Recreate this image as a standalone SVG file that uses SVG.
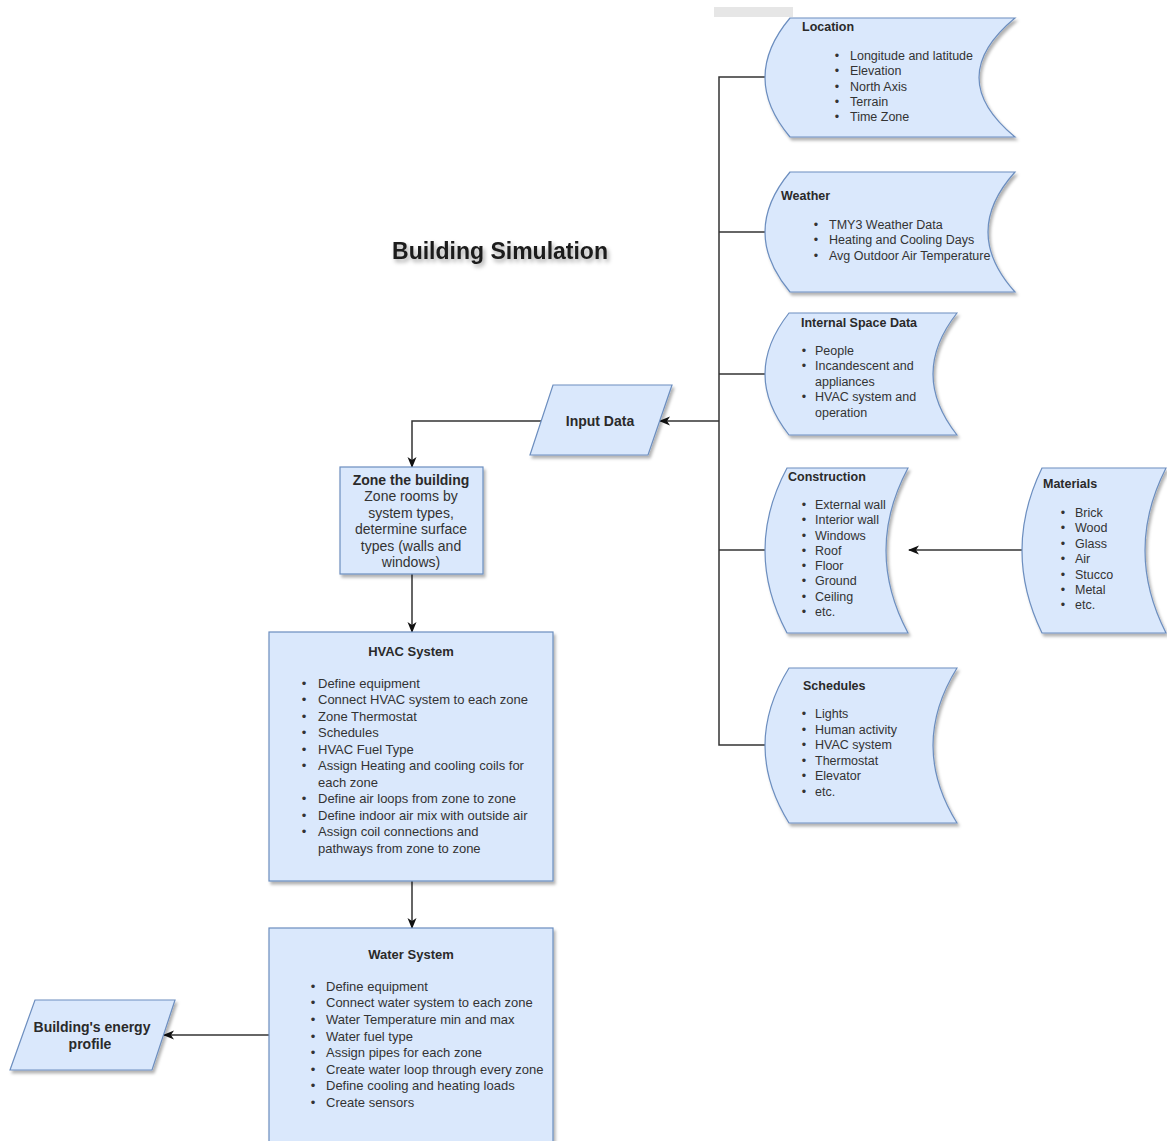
<svg xmlns="http://www.w3.org/2000/svg" width="1167" height="1141" viewBox="0 0 1167 1141">
<style>
.shape{fill:#dae8fc;stroke:#6c8ebf;stroke-width:1.2;filter:url(#sh)}
.t{font-family:"Liberation Sans",Arial,sans-serif;font-size:12.5px;fill:#333}
.b{font-family:"Liberation Sans",Arial,sans-serif;font-size:12.5px;font-weight:bold;fill:#2a2a2a}
.m{font-family:"Liberation Sans",Arial,sans-serif;font-size:13px;fill:#333}
.mb{font-family:"Liberation Sans",Arial,sans-serif;font-size:13px;font-weight:bold;fill:#2a2a2a}
.z{font-family:"Liberation Sans",Arial,sans-serif;font-size:14px;fill:#333;text-anchor:middle}
.zb{font-family:"Liberation Sans",Arial,sans-serif;font-size:14px;font-weight:bold;fill:#2a2a2a;text-anchor:middle}
.bu{text-anchor:middle}
.c{fill:none;stroke:#333;stroke-width:1.5}
</style>
<defs>
<filter id="sh" x="-10%" y="-10%" width="130%" height="130%">
<feDropShadow dx="2" dy="3" stdDeviation="1.5" flood-color="#000" flood-opacity="0.3"/>
</filter>
<filter id="tsh" x="-10%" y="-30%" width="130%" height="180%">
<feDropShadow dx="2" dy="3" stdDeviation="2" flood-color="#000" flood-opacity="0.35"/>
</filter>
<marker id="ah" markerWidth="11" markerHeight="11" refX="10" refY="5.5" orient="auto" markerUnits="userSpaceOnUse">
<path d="M0,1 L11,5.5 L0,10 L3,5.5 Z" fill="#111"/>
</marker>
</defs>
<rect width="1167" height="1141" fill="#fff"/>
<rect x="714" y="7" width="79" height="10" fill="#e6e6e6"/>
<text x="500" y="259" font-family="Liberation Sans,Arial,sans-serif" font-size="23" font-weight="bold" fill="#1a1a1a" text-anchor="middle" filter="url(#tsh)">Building Simulation</text>

<g id="connectors">
<path class="c" d="M766,77 L719,77 L719,745 L766,745"/>
<path class="c" d="M719,232 L766,232"/>
<path class="c" d="M719,374 L766,374"/>
<path class="c" d="M719,550 L765,550"/>
<path class="c" d="M719,421 L660,421" marker-end="url(#ah)"/>
<path class="c" d="M541,421 L412,421 L412,467" marker-end="url(#ah)"/>
<path class="c" d="M412,574 L412,632" marker-end="url(#ah)"/>
<path class="c" d="M412,881 L412,928" marker-end="url(#ah)"/>
<path class="c" d="M269,1035 L164,1035" marker-end="url(#ah)"/>
<path class="c" d="M1023,550 L909,550" marker-end="url(#ah)"/>
</g>

<g id="location">
<path class="shape" d="M790,18 L1015,18 Q943,77.5 1015,137 L790,137 Q740,77.5 790,18 Z"/>
<text class="b" x="802" y="31">Location</text>
<g class="t">
<text class="bu" x="837" y="60">•</text><text x="850" y="60">Longitude and latitude</text>
<text class="bu" x="837" y="75">•</text><text x="850" y="75">Elevation</text>
<text class="bu" x="837" y="91">•</text><text x="850" y="91">North Axis</text>
<text class="bu" x="837" y="106">•</text><text x="850" y="106">Terrain</text>
<text class="bu" x="837" y="121">•</text><text x="850" y="121">Time Zone</text>
</g>
</g>

<g id="weather">
<path class="shape" d="M790,172 L1015,172 Q961,232 1015,292 L790,292 Q740,232 790,172 Z"/>
<text class="b" x="781" y="200">Weather</text>
<g class="t">
<text class="bu" x="816" y="229">•</text><text x="829" y="229">TMY3 Weather Data</text>
<text class="bu" x="816" y="244">•</text><text x="829" y="244">Heating and Cooling Days</text>
<text class="bu" x="816" y="260">•</text><text x="829" y="260">Avg Outdoor Air Temperature</text>
</g>
</g>

<g id="internal">
<path class="shape" d="M789,313 L957,313 Q909,374 957,435 L789,435 Q741,374 789,313 Z"/>
<text class="b" x="801" y="327">Internal Space Data</text>
<g class="t">
<text class="bu" x="804" y="355">•</text><text x="815" y="355">People</text>
<text class="bu" x="804" y="370">•</text><text x="815" y="370">Incandescent and</text>
<text x="815" y="386">appliances</text>
<text class="bu" x="804" y="401">•</text><text x="815" y="401">HVAC system and</text>
<text x="815" y="417">operation</text>
</g>
</g>

<g id="construction">
<path class="shape" d="M787,468 L908,468 Q864,550.5 908,633 L787,633 Q743,550.5 787,468 Z"/>
<text class="b" x="788" y="481">Construction</text>
<g class="t">
<text class="bu" x="804" y="509">•</text><text x="815" y="509">External wall</text>
<text class="bu" x="804" y="524">•</text><text x="815" y="524">Interior wall</text>
<text class="bu" x="804" y="540">•</text><text x="815" y="540">Windows</text>
<text class="bu" x="804" y="555">•</text><text x="815" y="555">Roof</text>
<text class="bu" x="804" y="570">•</text><text x="815" y="570">Floor</text>
<text class="bu" x="804" y="585">•</text><text x="815" y="585">Ground</text>
<text class="bu" x="804" y="601">•</text><text x="815" y="601">Ceiling</text>
<text class="bu" x="804" y="616">•</text><text x="815" y="616">etc.</text>
</g>
</g>

<g id="materials">
<path class="shape" d="M1042,468 L1166,468 Q1124,550.5 1166,633 L1042,633 Q1002,550.5 1042,468 Z"/>
<text class="b" x="1043" y="488">Materials</text>
<g class="t">
<text class="bu" x="1063" y="517">•</text><text x="1075" y="517">Brick</text>
<text class="bu" x="1063" y="532">•</text><text x="1075" y="532">Wood</text>
<text class="bu" x="1063" y="548">•</text><text x="1075" y="548">Glass</text>
<text class="bu" x="1063" y="563">•</text><text x="1075" y="563">Air</text>
<text class="bu" x="1063" y="579">•</text><text x="1075" y="579">Stucco</text>
<text class="bu" x="1063" y="594">•</text><text x="1075" y="594">Metal</text>
<text class="bu" x="1063" y="609">•</text><text x="1075" y="609">etc.</text>
</g>
</g>

<g id="schedules">
<path class="shape" d="M789,668 L957,668 Q909,745.5 957,823 L789,823 Q741,745.5 789,668 Z"/>
<text class="b" x="803" y="690">Schedules</text>
<g class="t">
<text class="bu" x="804" y="718">•</text><text x="815" y="718">Lights</text>
<text class="bu" x="804" y="734">•</text><text x="815" y="734">Human activity</text>
<text class="bu" x="804" y="749">•</text><text x="815" y="749">HVAC system</text>
<text class="bu" x="804" y="765">•</text><text x="815" y="765">Thermostat</text>
<text class="bu" x="804" y="780">•</text><text x="815" y="780">Elevator</text>
<text class="bu" x="804" y="796">•</text><text x="815" y="796">etc.</text>
</g>
</g>

<g id="input-data">
<path class="shape" d="M553,385 L672,385 L648,455 L530,455 Z"/>
<text class="zb" x="600" y="426">Input Data</text>
</g>

<g id="zone">
<rect class="shape" x="340" y="467" width="143" height="107"/>
<text class="zb" x="411" y="485">Zone the building</text>
<text class="z" x="411" y="501">Zone rooms by</text>
<text class="z" x="411" y="518">system types,</text>
<text class="z" x="411" y="534">determine surface</text>
<text class="z" x="411" y="551">types (walls and</text>
<text class="z" x="411" y="567">windows)</text>
</g>

<g id="hvac">
<rect class="shape" x="269" y="632" width="284" height="249"/>
<text class="mb" x="411" y="656" text-anchor="middle">HVAC System</text>
<g class="m">
<text class="bu" x="304" y="688">•</text><text x="318" y="688">Define equipment</text>
<text class="bu" x="304" y="704">•</text><text x="318" y="704">Connect HVAC system to each zone</text>
<text class="bu" x="304" y="721">•</text><text x="318" y="721">Zone Thermostat</text>
<text class="bu" x="304" y="737">•</text><text x="318" y="737">Schedules</text>
<text class="bu" x="304" y="754">•</text><text x="318" y="754">HVAC Fuel Type</text>
<text class="bu" x="304" y="770">•</text><text x="318" y="770">Assign Heating and cooling coils for</text>
<text x="318" y="787">each zone</text>
<text class="bu" x="304" y="803">•</text><text x="318" y="803">Define air loops from zone to zone</text>
<text class="bu" x="304" y="820">•</text><text x="318" y="820">Define indoor air mix with outside air</text>
<text class="bu" x="304" y="836">•</text><text x="318" y="836">Assign coil connections and</text>
<text x="318" y="853">pathways from zone to zone</text>
</g>
</g>

<g id="water">
<rect class="shape" x="269" y="928" width="284" height="230"/>
<text class="mb" x="411" y="959" text-anchor="middle">Water System</text>
<g class="m">
<text class="bu" x="313" y="991">•</text><text x="326" y="991">Define equipment</text>
<text class="bu" x="313" y="1007">•</text><text x="326" y="1007">Connect water system to each zone</text>
<text class="bu" x="313" y="1024">•</text><text x="326" y="1024">Water Temperature min and max</text>
<text class="bu" x="313" y="1041">•</text><text x="326" y="1041">Water fuel type</text>
<text class="bu" x="313" y="1057">•</text><text x="326" y="1057">Assign pipes for each zone</text>
<text class="bu" x="313" y="1074">•</text><text x="326" y="1074">Create water loop through every zone</text>
<text class="bu" x="313" y="1090">•</text><text x="326" y="1090">Define cooling and heating loads</text>
<text class="bu" x="313" y="1107">•</text><text x="326" y="1107">Create sensors</text>
</g>
</g>

<g id="energy-profile">
<path class="shape" d="M35,1000 L175,1000 L152,1070 L10,1070 Z"/>
<text class="zb" x="92" y="1032">Building's energy</text>
<text class="zb" x="90" y="1049">profile</text>
</g>
</svg>
